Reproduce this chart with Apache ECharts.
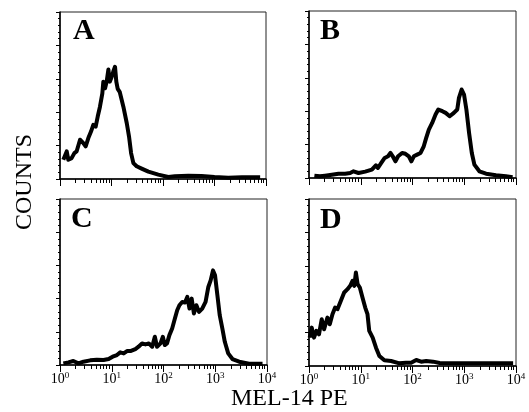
<!DOCTYPE html>
<html>
<head>
    <meta charset="UTF-8"/>
    <title>MEL-14 PE</title>
    <script src="https://cdn.jsdelivr.net/npm/echarts@6/dist/echarts.min.js"></script>
    <style>
        html, body { margin: 0; padding: 0; background: #fff; }
        #chart { width: 529px; height: 412px; }
    </style>
</head>
<body>
<div id="chart"></div>
<script>
    // MEL-14 PE fluorescence (log scale) and relative counts
    var xA = [1.16, 1.35, 1.45, 1.68, 1.9, 2.1, 2.45, 2.84, 3.15, 3.55, 4.0, 4.43, 4.93, 5.4, 5.97, 6.64, 6.94, 7.5, 8.06, 8.7, 9.3, 10.1, 10.8, 11.7, 12.4, 13.2, 14.5, 15.6, 17.0, 19.8, 21.9, 24.0, 26.6, 30.8, 38.5, 52, 81, 127, 170, 310, 560, 1000, 1850, 3400, 7700];
    var yA = [11.5, 16.5, 11.5, 12.5, 15.5, 16.5, 23.5, 21.5, 19.5, 24.5, 28.4, 32.4, 31.4, 37.4, 43.3, 51.3, 58.3, 54.3, 58.3, 65.6, 58.3, 61.2, 64.2, 67.2, 58.3, 54, 52, 51, 43.3, 33.4, 25.4, 15.5, 9.5, 7.6, 6.2, 4.4, 2.6, 1.2, 1.6, 2.0, 1.8, 1.2, 0.8, 1.0, 1.0];

    var xB = [1.27, 1.63, 2.04, 2.76, 3.71, 5.0, 6.25, 7.25, 9.05, 12.2, 16.4, 19.6, 21.5, 24.9, 29, 33.7, 37.5, 41.5, 46.8, 52.7, 63, 73, 85, 95, 106, 123, 143, 165, 184, 207, 240, 279, 315, 378, 437, 523, 630, 733, 790, 890, 990, 1100, 1240, 1400, 1570, 1960, 2640, 4100, 6400, 8600];
    var yB = [1.4, 1.0, 1.4, 2.0, 2.6, 2.6, 3.0, 4.0, 3.0, 3.8, 5.0, 7.6, 6.0, 9.0, 12, 13, 15, 13, 10, 13, 15, 14.5, 13, 10, 13, 14, 15, 19, 24, 29, 33, 38, 41, 40, 39, 37, 39, 41, 48, 53, 50, 41, 27, 15, 8, 4, 2.6, 1.6, 1.0, 0.4];

    var xC = [1.16, 1.45, 1.81, 2.27, 2.84, 3.83, 5.15, 6.94, 8.7, 10.4, 12.6, 14.6, 17.0, 19.7, 22.9, 28.6, 33, 38.5, 44.8, 52, 60.5, 68, 75, 87.6, 97, 106, 117, 130, 147, 166, 184, 203, 230, 260, 288, 318, 350, 387, 432, 485, 560, 650, 735, 815, 905, 990, 1100, 1220, 1370, 1530, 1780, 2150, 2900, 4500, 8200];
    var yC = [1, 1.6, 2.4, 1, 2, 2.8, 3.2, 3, 3.6, 5, 6, 7.6, 7, 8.4, 8.4, 9.6, 11, 13, 12.4, 13, 11, 17, 11, 13, 17, 12, 13, 18, 22, 28, 33, 36, 38, 37.7, 41, 34, 40, 31, 36, 32, 34, 38, 47, 51, 57, 54, 42, 30, 22, 14, 7, 3.6, 2, 0.8, 0.8];

    var xD = [1.03, 1.13, 1.25, 1.39, 1.56, 1.76, 1.96, 2.27, 2.52, 2.84, 3.2, 3.55, 4.13, 4.78, 5.55, 6.25, 6.94, 7.5, 8.06, 8.7, 9.6, 10.8, 12.2, 13.5, 14.6, 17, 19.7, 22.9, 28.6, 38.5, 56, 75, 94, 118, 147, 184, 250, 335, 600, 1480, 3600, 8800];
    var yD = [17, 23, 17, 21, 19, 28, 22, 29, 25, 31, 35, 34, 39, 44, 46, 48, 51, 48, 56, 49, 47, 41, 35, 31, 21, 17, 11, 6, 3.4, 3, 1.6, 2, 2, 3.6, 2.6, 3, 2.6, 1.8, 1.6, 1.6, 1.6, 1.6];

    var panelLetters = ['A', 'B', 'C', 'D'];
    var yLabel = 'COUNTS';
    var xLabel = 'MEL-14 PE';

    // log minor ticks 2..9 in each decade, as positions on a 0..4 (log10) helper axis
    var minorTickPos = [];
    for (var d = 0; d < 4; d++) {
        for (var k = 2; k <= 9; k++) {
            minorTickPos.push(d + Math.log10(k));
        }
    }

    var serif = 'Liberation Serif';
    var grids = [
        {left: 60, top: 12, width: 206, height: 167},
        {left: 309, top: 11, width: 207, height: 167},
        {left: 60, top: 199, width: 207, height: 166},
        {left: 309, top: 199, width: 207, height: 167}
    ];
    var letterPos = [[73, 16], [320, 16], [71, 204], [320, 205]];
    var panels = [[xA, yA], [xB, yB], [xC, yC], [xD, yD]];

    var option = {
        backgroundColor: '#fff',
        animation: false,
        title: [],
        grid: [],
        xAxis: [],
        yAxis: [],
        series: [],
        graphic: [
            {
                type: 'text',
                left: 13,
                top: 134,
                rotation: Math.PI / 2,
                style: {text: yLabel, font: '24px "Liberation Serif"', fill: '#000'}
            },
            {
                type: 'text',
                left: 231,
                top: 387,
                style: {text: xLabel, font: '24px "Liberation Serif"', fill: '#000'}
            }
        ]
    };

    panels.forEach(function (p, i) {
        var g = grids[i];
        var showLabel = i >= 2;
        option.grid.push({
            left: g.left, top: g.top, width: g.width, height: g.height,
            show: true, borderColor: '#222', borderWidth: 1
        });
        option.title.push({
            text: panelLetters[i],
            left: letterPos[i][0], top: letterPos[i][1], padding: 0,
            textStyle: {fontFamily: serif, fontWeight: 'bold', fontSize: 30, color: '#000'}
        });
        // main log axis: decades, labels on bottom row
        option.xAxis.push({
            type: 'log', logBase: 10, min: 1, max: 10000,
            gridIndex: i, position: 'bottom',
            axisLine: {onZero: false, lineStyle: {color: '#000', width: 1.5}},
            axisTick: {show: true, inside: false, length: 7, lineStyle: {color: '#000', width: 1}},
            minorTick: {show: false},
            splitLine: {show: false},
            axisLabel: {
                show: showLabel, margin: 6,
                fontFamily: serif, fontSize: 14, color: '#000',
                formatter: function (v) {
                    return '10{s|' + Math.round(Math.log10(v)) + '}';
                },
                rich: {s: {fontFamily: serif, fontSize: 9, verticalAlign: 'top', padding: [0, 0, 8, 0]}}
            }
        });
        // helper axis for the 2..9 minor ticks
        option.xAxis.push({
            type: 'value', min: 0, max: 4,
            gridIndex: i, position: 'bottom',
            axisLine: {show: false, onZero: false},
            axisTick: {show: true, inside: false, length: 4, customValues: minorTickPos,
                lineStyle: {color: '#000', width: 1}},
            axisLabel: {show: false},
            splitLine: {show: false}
        });
        option.yAxis.push({
            type: 'value', min: 0, max: 100, interval: 20,
            gridIndex: i,
            axisLine: {show: true, lineStyle: {color: '#000', width: 1.5}},
            axisTick: {show: true, inside: false, length: 4, lineStyle: {color: '#000'}},
            minorTick: {show: true, splitNumber: 5, length: 2, lineStyle: {color: '#000'}},
            axisLabel: {show: false},
            splitLine: {show: false}
        });
        option.series.push({
            type: 'line',
            xAxisIndex: i * 2, yAxisIndex: i,
            showSymbol: false, symbol: 'none',
            lineStyle: {color: '#000', width: 4, join: 'round'},
            data: p[0].map(function (x, j) { return [x, p[1][j]]; })
        });
    });

    var myChart = echarts.init(document.getElementById('chart'));
    myChart.setOption(option);
</script>
</body>
</html>
